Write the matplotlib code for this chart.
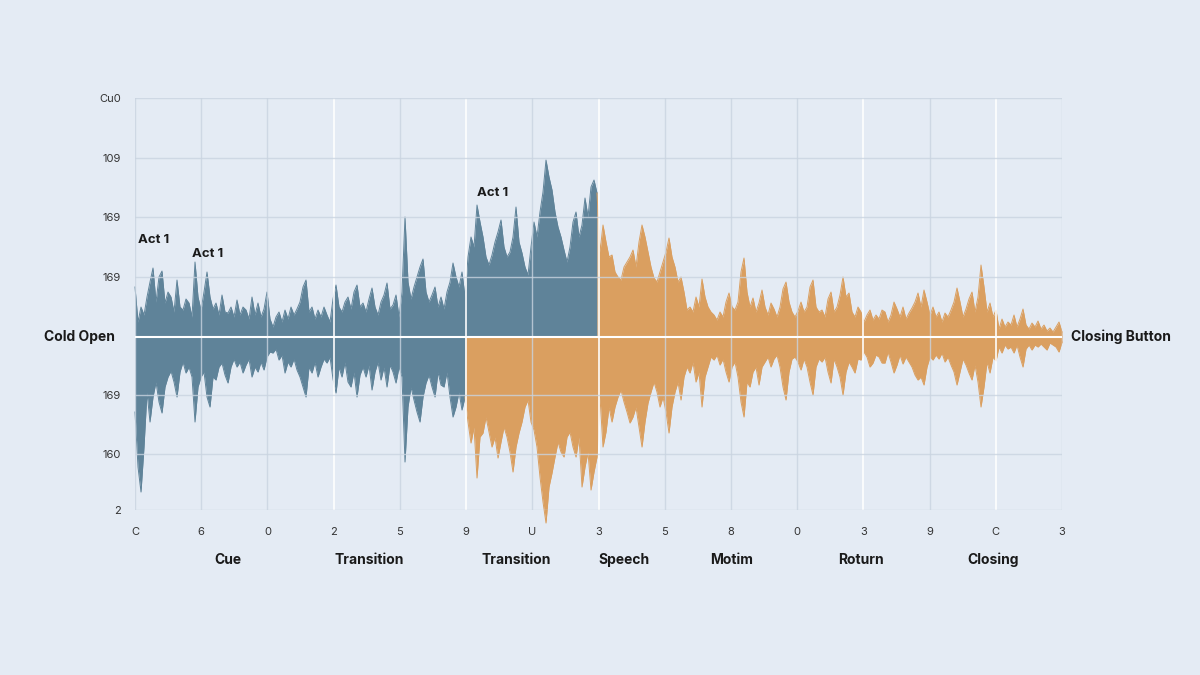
import numpy as np
import matplotlib
matplotlib.use("Agg")
import matplotlib.pyplot as plt

plt.rcParams['font.family'] = ['Inter', 'DejaVu Sans']

# Waveform envelope, one value every sample (amplitude units; grid step = 60)
upper = [
    50, 15, 30, 22, 40, 55, 69, 35, 60, 66,
    34, 45, 40, 25, 57, 30, 27, 38, 34, 20,
    75, 40, 27, 45, 65, 40, 28, 34, 22, 42,
    25, 24, 30, 20, 37, 22, 30, 27, 18, 40,
    22, 34, 20, 28, 45, 18, 10, 20, 25, 15,
    27, 18, 30, 22, 28, 35, 50, 57, 25, 30,
    18, 27, 20, 30, 22, 15, 38, 52, 30, 25,
    35, 40, 28, 45, 52, 30, 34, 25, 38, 49,
    30, 22, 35, 42, 54, 28, 32, 42, 20, 45,
    120, 55, 38, 50, 60, 70, 78, 45, 35, 42,
    50, 30, 40, 28, 45, 55, 74, 60, 50, 65,
    40, 80, 100, 90, 132, 115, 100, 80, 72, 82,
    95, 105, 117, 90, 80, 85, 100, 130, 95, 84,
    70, 62, 90, 115, 100, 125, 145, 177, 160, 147,
    125, 110, 100, 87, 75, 90, 115, 125, 100, 112,
    139, 120, 150, 157, 144, 85, 112, 95, 80, 82,
    65, 60, 57, 70, 75, 80, 87, 70, 95, 112,
    100, 85, 70, 59, 55, 65, 75, 85, 99, 80,
    70, 55, 60, 45, 27, 30, 25, 40, 30, 58,
    40, 30, 25, 22, 17, 25, 20, 35, 44, 30,
    27, 35, 65, 79, 45, 30, 39, 25, 34, 47,
    30, 22, 34, 28, 20, 30, 48, 55, 35, 25,
    20, 26, 35, 25, 30, 50, 57, 30, 25, 27,
    20, 38, 45, 25, 30, 42, 60, 40, 44, 25,
    20, 30, 25, 15, 22, 27, 17, 22, 18, 27,
    25, 15, 22, 35, 28, 20, 30, 18, 24, 29,
    35, 44, 30, 47, 35, 22, 30, 20, 25, 15,
    24, 20, 27, 35, 49, 35, 20, 28, 38, 45,
    25, 40, 72, 50, 25, 34, 20, 27, 8, 18,
    10, 15, 12, 22, 10, 18, 28, 12, 8, 14,
    10, 16, 8, 12, 6, 9, 5, 10, 15, 5,
]
lower = [
    75, 130, 155, 110, 55, 85, 60, 45, 65, 76,
    50, 40, 34, 45, 60, 35, 25, 36, 30, 40,
    85, 50, 40, 35, 60, 70, 40, 43, 30, 26,
    38, 46, 30, 22, 30, 25, 36, 28, 22, 40,
    30, 35, 25, 33, 20, 15, 16, 12, 23, 18,
    36, 25, 30, 22, 33, 40, 50, 60, 30, 36,
    25, 40, 30, 22, 26, 20, 42, 56, 30, 40,
    25, 45, 50, 35, 60, 38, 30, 40, 28, 53,
    35, 25, 43, 30, 50, 28, 35, 46, 30, 40,
    125, 70, 50, 63, 75, 85, 60, 46, 38, 50,
    60, 35, 48, 50, 35, 60, 80, 70, 55, 73,
    60, 85, 106, 90, 141, 100, 96, 80, 95, 110,
    100, 121, 105, 90, 100, 115, 135, 110, 96, 85,
    70, 63, 85, 93, 110, 140, 165, 186, 150, 136,
    120, 105, 115, 120, 100, 95, 110, 120, 100, 150,
    130, 115, 153, 135, 120, 60, 110, 95, 70, 85,
    70, 60, 53, 65, 75, 86, 80, 70, 90, 110,
    85, 66, 55, 45, 55, 70, 60, 75, 96, 70,
    55, 45, 63, 40, 30, 36, 25, 45, 35, 70,
    40, 30, 20, 23, 18, 28, 22, 35, 45, 30,
    25, 40, 65, 80, 45, 50, 35, 30, 48, 30,
    25, 20, 30, 22, 18, 30, 50, 63, 35, 22,
    20, 25, 33, 22, 30, 45, 58, 30, 22, 25,
    20, 35, 46, 22, 30, 40, 58, 35, 25, 30,
    36, 22, 23, 15, 20, 30, 26, 18, 20, 26,
    26, 15, 25, 36, 28, 18, 27, 20, 25, 30,
    38, 43, 40, 48, 30, 20, 23, 18, 22, 16,
    25, 20, 28, 35, 48, 35, 22, 28, 36, 43,
    28, 45, 70, 50, 25, 36, 20, 24, 10, 16,
    8, 12, 10, 16, 8, 20, 30, 12, 8, 13,
    8, 10, 7, 10, 13, 6, 8, 10, 15, 5,
]
blue_top_end = 154      # sample where the upper half turns orange
blue_bottom_end = 110   # sample where the lower half turns orange

y_ticks = [239, 179, 120, 60, -58, -117, -173]
y_tick_labels = ["Cu0", "109", "169", "169", "169", "160", "2"]
x_tick_labels = ["C", "6", "0", "2", "5", "9", "U", "3", "5", "8", "0", "3", "9", "C", "3"]
highlight_ticks = [3, 5, 7, 11, 13]

sections = ["Cue", "Transition", "Transition", "Speech", "Motim", "Roturn", "Closing"]
section_pos = [31, 78, 127, 163, 199, 242, 286]

act_labels = ["Act 1", "Act 1", "Act 1"]
act_x = [1, 19, 114]
act_y = [97, 83, 144]

BLUE = "#5f8399"
ORANGE = "#da9f60"
BG = "#e4ebf4"
GRID = "#c9d4e0"

up = np.array(upper, dtype=float)
lo = -np.array(lower, dtype=float)
x = np.arange(len(up))
n = len(up)

fig = plt.figure(figsize=(12, 6.75), dpi=100, facecolor=BG)
ax = fig.add_axes([0.1125, 0.2444, 0.7725, 0.6104])
ax.set_facecolor(BG)

bt = blue_top_end
bb = blue_bottom_end
parts = [
    (x[:bt + 1], np.zeros(bt + 1), up[:bt + 1], BLUE),
    (x[bt:], np.zeros(n - bt), up[bt:], ORANGE),
    (x[:bb + 1], lo[:bb + 1], np.zeros(bb + 1), BLUE),
    (x[bb:], lo[bb:], np.zeros(n - bb), ORANGE),
]
for xs, y0, y1, c in parts:
    ax.fill_between(xs, y0, y1, color=c, lw=0, zorder=2, clip_on=False)
    edge = y1 if y1.any() else y0
    ax.plot(xs, edge, color=c, lw=0.7, zorder=2, clip_on=False)

ax.set_xlim(0, n - 1)
ax.set_ylim(-173, 239)

xt = np.linspace(0, n - 1, len(x_tick_labels))
for i, v in enumerate(xt):
    if i in highlight_ticks:
        ax.axvline(v, color="white", lw=1.3, alpha=0.9, zorder=3)
    else:
        ax.axvline(v, color=GRID, lw=1.0, alpha=0.8, zorder=3)
for v in y_ticks:
    ax.axhline(v, color=GRID, lw=1.0, alpha=0.8, zorder=3)
ax.axhline(0, color="white", lw=1.5, zorder=4)

for s in ax.spines.values():
    s.set_visible(False)
ax.set_xticks(xt)
ax.set_xticklabels(x_tick_labels, fontsize=8, color="#333333")
ax.set_yticks(y_ticks)
ax.set_yticklabels(y_tick_labels, fontsize=8, color="#333333")
ax.tick_params(length=0, pad=12)
ax.tick_params(axis='y', pad=10)

for lab, px in zip(sections, section_pos):
    ax.text(px, -0.121, lab, transform=ax.get_xaxis_transform(), ha="center",
            va="center", fontsize=10, fontweight="bold", color="#1a1a1a")

for lab, ax_, ay in zip(act_labels, act_x, act_y):
    ax.text(ax_, ay, lab, ha="left", va="center", fontsize=9.5,
            fontweight="bold", color="#1a1a1a", zorder=5)

ax.text(-0.022, 0, "Cold Open", transform=ax.get_yaxis_transform(), ha="right",
        va="center", fontsize=10, fontweight="bold", color="#1a1a1a")
ax.text(1.01, 0, "Closing Button", transform=ax.get_yaxis_transform(), ha="left",
        va="center", fontsize=10, fontweight="bold", color="#1a1a1a")

fig.savefig("out.png", dpi=100, facecolor=BG)
